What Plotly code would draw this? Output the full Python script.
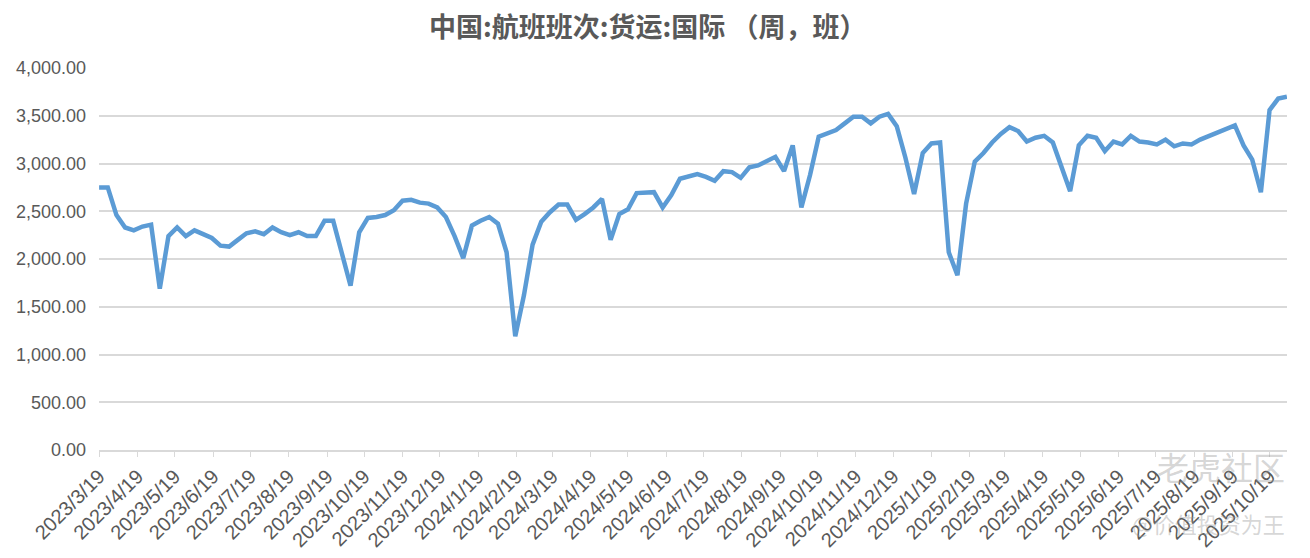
import plotly.graph_objects as go
import pandas as pd

start_date = "2023-03-19"
values = [
    2750, 2750, 2460, 2330, 2300, 2340, 2360, 1690, 2240, 2330,
    2240, 2300, 2260, 2220, 2140, 2130, 2200, 2270, 2290, 2260,
    2330, 2280, 2250, 2280, 2240, 2240, 2400, 2400, 2060, 1720,
    2280, 2430, 2440, 2460, 2510, 2610, 2620, 2590, 2580, 2540,
    2440, 2240, 2010, 2350, 2400, 2440, 2370, 2070, 1190, 1620,
    2150, 2390, 2490, 2570, 2570, 2410, 2470, 2540, 2630, 2200,
    2470, 2520, 2690, 2690, 2700, 2540, 2670, 2840, 2870, 2890,
    2860, 2820, 2920, 2910, 2850, 2960, 2980, 3030, 3070, 2920,
    3190, 2540, 2880, 3280, 3310, 3350, 3420, 3490, 3490, 3420,
    3490, 3520, 3390, 3060, 2680, 3110, 3210, 3220, 2070, 1830,
    2580, 3020, 3110, 3220, 3310, 3380, 3340, 3230, 3270, 3290,
    3220, 2960, 2710, 3190, 3290, 3270, 3130, 3230, 3200, 3290,
    3230, 3220, 3200, 3250, 3180, 3210, 3200, 3250, 3290, 3330,
    3370, 3400, 3190, 3040, 2700, 3560, 3680, 3700,
]
dates = pd.date_range(start_date, periods=len(values), freq="7D")

tick_dates = pd.date_range("2023-03-01", "2025-10-01", freq="MS") + pd.Timedelta(days=18)
tick_text = [f"{d.year}/{d.month}/{d.day}" for d in tick_dates]

y_ticks = list(range(0, 4001, 500))
y_text = [f"{v:,.2f}" for v in y_ticks]

title_text = "中国:航班班次:货运:国际 （周，班）"

fig = go.Figure()
fig.add_trace(go.Scatter(
    x=dates, y=values, mode="lines",
    line=dict(color="#5B9BD5", width=4.5),
    hoverinfo="x+y", showlegend=False,
))

x_lo = dates[0] - pd.Timedelta(hours=2)
x_hi = dates[-1] + pd.Timedelta(hours=2)

fig.update_layout(
    width=1302, height=550,
    margin=dict(l=91, r=23, t=60, b=108),
    paper_bgcolor="white", plot_bgcolor="white",
    xaxis=dict(
        type="date",
        range=[x_lo, x_hi],
        tickmode="array", tickvals=tick_dates, ticktext=tick_text,
        tickangle=-45, ticklabeloverflow="allow",
        tickfont=dict(family="Liberation Sans, Arial", size=20, color="#595959"),
        showgrid=False, automargin=False,
        showline=True, linecolor="#D9D9D9", linewidth=1.5,
        ticks="outside", ticklen=5, tickcolor="#D9D9D9", tickwidth=1,
        zeroline=False,
    ),
    yaxis=dict(
        range=[0, 4000], automargin=False,
        tickmode="array", tickvals=y_ticks, ticktext=y_text,
        tickfont=dict(family="Liberation Sans, Arial", size=18, color="#595959"),
        showgrid=True, gridcolor="#D9D9D9", gridwidth=1.5,
        zeroline=False, showline=False,
        ticks="", ticklabelstandoff=12,
    ),
)

fig.add_annotation(text=f"<b>{title_text}</b>", xref="paper", yref="paper",
                   x=0.4617, y=1.112, xanchor="center", yanchor="middle", showarrow=False,
                   font=dict(family="Noto Sans CJK SC", size=27, color="#595959"))
fig.add_annotation(text="老虎社区", xref="paper", yref="paper",
                   x=1.0, y=-0.042, xanchor="right", yanchor="middle", showarrow=False,
                   font=dict(family="Noto Sans CJK SC", size=32, color="rgba(150,150,150,0.4)"))
fig.add_annotation(text="@价值投资为王", xref="paper", yref="paper",
                   x=1.0, y=-0.19, xanchor="right", yanchor="middle", showarrow=False,
                   font=dict(family="Noto Sans CJK SC", size=22, color="rgba(150,150,150,0.4)"))

fig.write_html("out.html")
